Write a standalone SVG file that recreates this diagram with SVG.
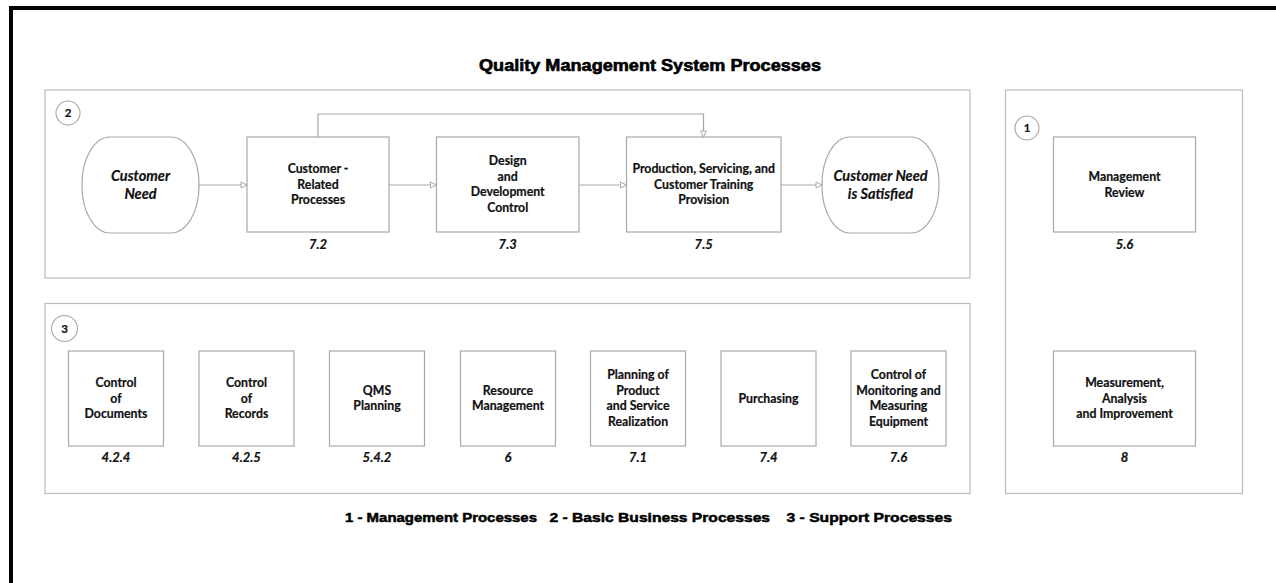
<svg xmlns="http://www.w3.org/2000/svg" width="1276" height="583" viewBox="0 0 1276 583">
  <style>
    .panel { fill: #ffffff; stroke: #bcbcbc; stroke-width: 1.2; }
    .box { fill: #ffffff; stroke: #a8a8a8; stroke-width: 1.2; }
    .term { fill: #ffffff; stroke: #a8a8a8; stroke-width: 1.2; }
    .badge { fill: #ffffff; stroke: #a8a8a8; stroke-width: 1.1; }
    .badge-txt { font-family: Lato, "Liberation Sans", sans-serif; font-weight: bold; font-size: 11.5px; fill: #111111; stroke: #111111; stroke-width: 0.2; text-anchor: middle; }
    .lbl { font-family: Lato, "Liberation Sans", sans-serif; font-weight: bold; font-size: 12.3px; fill: #111111; stroke: #111111; stroke-width: 0.2; text-anchor: middle; }
    .term-txt { font-family: Lato, "Liberation Sans", sans-serif; font-weight: bold; font-style: italic; font-size: 14.5px; fill: #111111; stroke: #111111; stroke-width: 0.2; text-anchor: middle; }
    .num { font-family: Lato, "Liberation Sans", sans-serif; font-weight: bold; font-style: italic; font-size: 13px; fill: #111111; stroke: #111111; stroke-width: 0.2; text-anchor: middle; }
    .title { font-family: "Liberation Sans", Arial, sans-serif; font-weight: bold; font-size: 16px; fill: #000000; stroke: #000000; stroke-width: 0.6; }
    .legend { font-family: "Liberation Sans", Arial, sans-serif; font-weight: bold; font-size: 13.5px; fill: #000000; stroke: #000000; stroke-width: 0.5; }
    .conn { fill: none; stroke: #a8a8a8; stroke-width: 1.2; }
  </style>
  <defs>
    <marker id="open-arrow" markerUnits="userSpaceOnUse" markerWidth="8" markerHeight="8" viewBox="0 0 8 8" refX="7" refY="4" orient="auto">
      <path d="M1,1 L7,4 L1,7 Z" fill="#ffffff" stroke="#a8a8a8" stroke-width="1"/>
    </marker>
  </defs>

  <rect width="1276" height="583" fill="#ffffff"/>

  <!-- page frame -->
  <path d="M11,583 V8 H1276" fill="none" stroke="#000000" stroke-width="4"/>

  <!-- title -->
  <text class="title" x="479" y="70.5" textLength="342" lengthAdjust="spacingAndGlyphs">Quality Management System Processes</text>

  <!-- process group panels -->
  <g id="panel-basic">
    <rect class="panel" x="45" y="90" width="925" height="188"/>
    <circle class="badge" cx="68" cy="113" r="12"/>
    <text class="badge-txt" x="68" y="117">2</text>
  </g>
  <g id="panel-support">
    <rect class="panel" x="45" y="303.5" width="925" height="190"/>
    <circle class="badge" cx="64.5" cy="328.5" r="13"/>
    <text class="badge-txt" x="64.5" y="332.5">3</text>
  </g>
  <g id="panel-management">
    <rect class="panel" x="1005.5" y="90" width="237" height="403.5"/>
    <circle class="badge" cx="1027" cy="128" r="12"/>
    <text class="badge-txt" x="1027" y="132">1</text>
  </g>

  <!-- connectors -->
  <g id="connectors">
    <line class="conn" x1="199" y1="185" x2="247" y2="185" marker-end="url(#open-arrow)"/>
    <line class="conn" x1="389" y1="185" x2="436.5" y2="185" marker-end="url(#open-arrow)"/>
    <line class="conn" x1="579" y1="185" x2="626.5" y2="185" marker-end="url(#open-arrow)"/>
    <line class="conn" x1="781" y1="185" x2="822" y2="185" marker-end="url(#open-arrow)"/>
    <path class="conn" d="M318,137 V114 H703.5 V137" marker-end="url(#open-arrow)"/>
  </g>

  <!-- basic business processes -->
  <g id="customer-need">
    <rect class="term" x="82" y="137" width="117" height="96" rx="28" ry="47"/>
    <text class="term-txt" x="140.5" y="180.5">Customer</text>
    <text class="term-txt" x="140.5" y="199">Need</text>
  </g>
  <g id="customer-related">
    <rect class="box" x="247" y="137" width="142" height="95"/>
    <text class="lbl" x="318" y="173">Customer -</text>
    <text class="lbl" x="318" y="188.7">Related</text>
    <text class="lbl" x="318" y="204.4">Processes</text>
    <text class="num" x="318" y="248.5">7.2</text>
  </g>
  <g id="design-development">
    <rect class="box" x="436.5" y="137" width="142.5" height="95"/>
    <text class="lbl" x="507.7" y="165">Design</text>
    <text class="lbl" x="507.7" y="180.7">and</text>
    <text class="lbl" x="507.7" y="196.4">Development</text>
    <text class="lbl" x="507.7" y="212.1">Control</text>
    <text class="num" x="507.7" y="248.5">7.3</text>
  </g>
  <g id="production">
    <rect class="box" x="626.5" y="137" width="154.5" height="95"/>
    <text class="lbl" x="703.7" y="173">Production, Servicing, and</text>
    <text class="lbl" x="703.7" y="188.7">Customer Training</text>
    <text class="lbl" x="703.7" y="204.4">Provision</text>
    <text class="num" x="703.7" y="248.5">7.5</text>
  </g>
  <g id="need-satisfied">
    <rect class="term" x="822" y="137" width="117" height="96" rx="28" ry="47"/>
    <text class="term-txt" x="880.5" y="180.5">Customer Need</text>
    <text class="term-txt" x="880.5" y="199">is Satisfied</text>
  </g>

  <!-- management processes -->
  <g id="management-review">
    <rect class="box" x="1053.5" y="137" width="142" height="95"/>
    <text class="lbl" x="1124.5" y="181">Management</text>
    <text class="lbl" x="1124.5" y="196.7">Review</text>
    <text class="num" x="1124.5" y="248.5">5.6</text>
  </g>
  <g id="measurement">
    <rect class="box" x="1053.5" y="351" width="142" height="95"/>
    <text class="lbl" x="1124.5" y="387">Measurement,</text>
    <text class="lbl" x="1124.5" y="402.7">Analysis</text>
    <text class="lbl" x="1124.5" y="418.4">and Improvement</text>
    <text class="num" x="1124.5" y="462">8</text>
  </g>

  <!-- support processes -->
  <g id="control-documents">
    <rect class="box" x="68.5" y="351" width="95" height="95"/>
    <text class="lbl" x="116" y="387">Control</text>
    <text class="lbl" x="116" y="402.7">of</text>
    <text class="lbl" x="116" y="418.4">Documents</text>
    <text class="num" x="116" y="462">4.2.4</text>
  </g>
  <g id="control-records">
    <rect class="box" x="199" y="351" width="95" height="95"/>
    <text class="lbl" x="246.5" y="387">Control</text>
    <text class="lbl" x="246.5" y="402.7">of</text>
    <text class="lbl" x="246.5" y="418.4">Records</text>
    <text class="num" x="246.5" y="462">4.2.5</text>
  </g>
  <g id="qms-planning">
    <rect class="box" x="329.5" y="351" width="95" height="95"/>
    <text class="lbl" x="377" y="394.7">QMS</text>
    <text class="lbl" x="377" y="410.4">Planning</text>
    <text class="num" x="377" y="462">5.4.2</text>
  </g>
  <g id="resource-management">
    <rect class="box" x="460.5" y="351" width="95" height="95"/>
    <text class="lbl" x="508" y="394.7">Resource</text>
    <text class="lbl" x="508" y="410.4">Management</text>
    <text class="num" x="508" y="462">6</text>
  </g>
  <g id="realization-planning">
    <rect class="box" x="590.5" y="351" width="95" height="95"/>
    <text class="lbl" x="638" y="379">Planning of</text>
    <text class="lbl" x="638" y="394.7">Product</text>
    <text class="lbl" x="638" y="410.4">and Service</text>
    <text class="lbl" x="638" y="426.1">Realization</text>
    <text class="num" x="638" y="462">7.1</text>
  </g>
  <g id="purchasing">
    <rect class="box" x="721" y="351" width="95" height="95"/>
    <text class="lbl" x="768.5" y="402.5">Purchasing</text>
    <text class="num" x="768.5" y="462">7.4</text>
  </g>
  <g id="monitoring-equipment">
    <rect class="box" x="851" y="351" width="95" height="95"/>
    <text class="lbl" x="898.5" y="379">Control of</text>
    <text class="lbl" x="898.5" y="394.7">Monitoring and</text>
    <text class="lbl" x="898.5" y="410.4">Measuring</text>
    <text class="lbl" x="898.5" y="426.1">Equipment</text>
    <text class="num" x="898.5" y="462">7.6</text>
  </g>

  <!-- legend -->
  <text class="legend" x="345" y="522" textLength="192" lengthAdjust="spacingAndGlyphs">1 - Management Processes</text>
  <text class="legend" x="549.5" y="522" textLength="220.5" lengthAdjust="spacingAndGlyphs">2 - Basic Business Processes</text>
  <text class="legend" x="786.5" y="522" textLength="165.5" lengthAdjust="spacingAndGlyphs">3 - Support Processes</text>
</svg>
